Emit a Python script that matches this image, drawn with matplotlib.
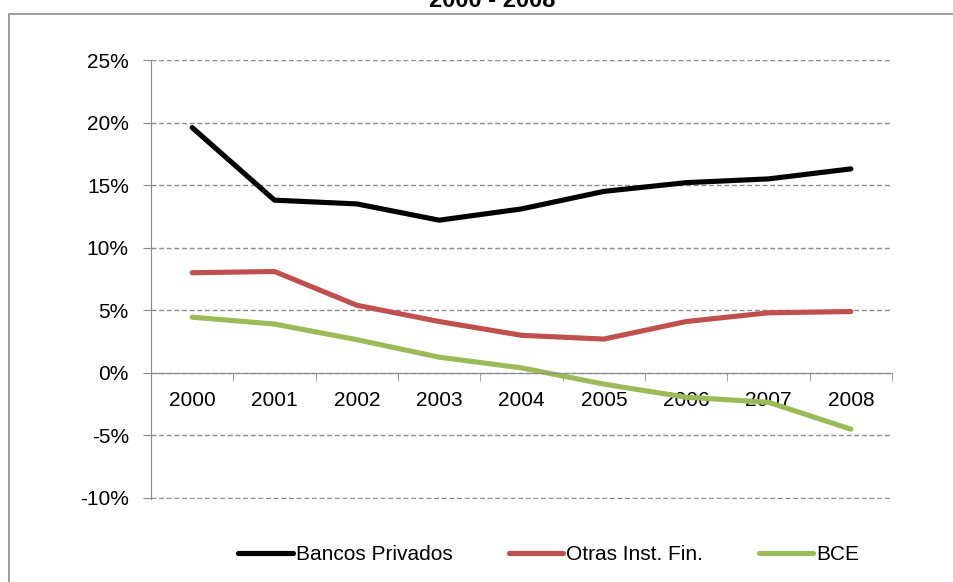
import numpy as np
import matplotlib
matplotlib.use('Agg')
import matplotlib.pyplot as plt
from matplotlib.ticker import FuncFormatter, FixedLocator
from matplotlib.patches import Rectangle

plt.rcParams['font.family'] = ['Liberation Sans', 'DejaVu Sans']

years = ['2000', '2001', '2002', '2003', '2004', '2005', '2006', '2007', '2008']
bancos_privados = [19.6, 13.8, 13.5, 12.2, 13.1, 14.5, 15.2, 15.5, 16.3]
otras_inst_fin = [8.0, 8.1, 5.4, 4.1, 3.0, 2.7, 4.1, 4.8, 4.9]
bce = [4.45, 3.9, 2.65, 1.25, 0.4, -0.9, -1.95, -2.35, -4.5]

series_names = ['Bancos Privados', 'Otras Inst. Fin.', 'BCE']
series_colors = ['#000000', '#C0504D', '#9BBB59']

fig = plt.figure(figsize=(9.54, 5.82), dpi=100)
ax = fig.add_axes([151/954, 1 - 499/582, (892 - 151)/954, (499 - 60)/582])

x = np.arange(len(years))
for vals, name, col in zip([bancos_privados, otras_inst_fin, bce], series_names, series_colors):
    ax.plot(x, vals, color=col, lw=3.7, label=name, solid_capstyle='round')

ax.set_xlim(-0.5, len(years) - 0.5)
ax.set_ylim(-10.08, 25)
ax.set_yticks(np.arange(-10, 26, 5))
ax.yaxis.set_major_formatter(FuncFormatter(lambda v, p: f'{int(round(v))}%'))
ax.grid(axis='y', color='#8c8c8c', linestyle=(0, (3.5, 2)), linewidth=1)
ax.set_axisbelow(True)

ax.set_xticks(x)
ax.set_xticklabels(years)
ax.xaxis.set_minor_locator(FixedLocator(np.arange(-0.5, len(years), 1)))
ax.tick_params(axis='x', which='major', length=0, pad=13, labelsize=15)
ax.tick_params(axis='x', which='minor', length=6, color='#8c8c8c', direction='out')
ax.tick_params(axis='y', length=6, color='#8c8c8c', labelsize=15, pad=10)

for s in ['top', 'right']:
    ax.spines[s].set_visible(False)
ax.spines['bottom'].set_position(('data', 0))
ax.spines['bottom'].set_color('#8c8c8c')
ax.spines['left'].set_color('#8c8c8c')

# title sits mostly above the top edge, as in the original
fig.text(492/954, 1 - 12/582, '2000 - 2008', ha='center', va='bottom',
         fontsize=17, fontweight='bold')

fig.patches.append(Rectangle((9/954, -0.1), 1.2, 1 - 14/582 + 0.1, transform=fig.transFigure,
                             fill=False, edgecolor='#8c8c8c', lw=1.2))

fig.legend(loc='center', bbox_to_anchor=(549/954, 1 - 555/582), ncol=3, frameon=False,
           fontsize=15, handlelength=2.6, handletextpad=0.15, columnspacing=2.7)

fig.savefig('out.png', dpi=100)
